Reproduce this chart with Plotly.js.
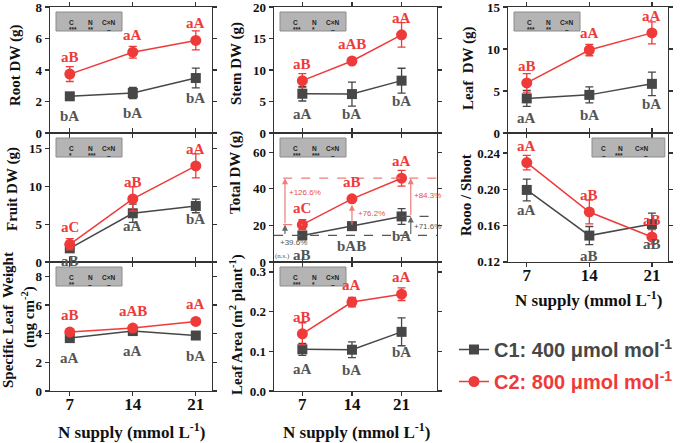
<!DOCTYPE html>
<html>
<head>
<meta charset="utf-8">
<script src="https://cdn.plot.ly/plotly-3.0.1.min.js"></script>
<style>
  html, body { margin: 0; padding: 0; background: #fff; }
  #chart { width: 685px; height: 443px; }
</style>
</head>
<body>
<div id="chart"></div>
<script>
const nSupply = [7, 14, 21];

// root dry weight
const rootC1 = [2.33, 2.54, 3.49];
const rootC1Err = [0.15, 0.35, 0.63];
const rootC2 = [3.74, 5.13, 5.88];
const rootC2Err = [0.47, 0.37, 0.6];
const rootC1Lab = ['bA', 'bA', 'bA'];
const rootC2Lab = ['aB', 'aA', 'aA'];
const rootStats = ['***', '**', '–'];

// stem dry weight
const stemC1 = [6.23, 6.18, 8.31];
const stemC1Err = [1.15, 1.9, 1.97];
const stemC2 = [8.31, 11.43, 15.58];
const stemC2Err = [1.1, 0.3, 1.95];
const stemC1Lab = ['aA', 'bA', 'bA'];
const stemC2Lab = ['aB', 'aAB', 'aA'];
const stemStats = ['***', '*', '–'];

// leaf dry weight
const leafC1 = [4.12, 4.54, 5.85];
const leafC1Err = [0.95, 0.95, 1.4];
const leafC2 = [5.96, 9.88, 11.92];
const leafC2Err = [1.1, 0.68, 1.3];
const leafC1Lab = ['aA', 'bA', 'bA'];
const leafC2Lab = ['aB', 'aA', 'aA'];
const leafStats = ['***', '**', '–'];

// fruit dry weight
const fruitC1 = [1.81, 6.46, 7.43];
const fruitC1Err = [0.3, 1.2, 0.9];
const fruitC2 = [2.35, 8.36, 12.74];
const fruitC2Err = [0.75, 1.6, 1.6];
const fruitC1Lab = ['aB', 'aA', 'bA'];
const fruitC2Lab = ['aC', 'aB', 'aA'];
const fruitStats = ['*', '***', '–'];

// total dry weight
const totalC1 = [14.5, 19.6, 24.9];
const totalC1Err = [1.0, 1.5, 4.3];
const totalC2 = [20.4, 34.5, 45.8];
const totalC2Err = [2.7, 1.0, 4.3];
const totalC1Lab = ['aB', 'bAB', 'bA'];
const totalC2Lab = ['aC', 'aB', 'aA'];
const totalStats = ['***', '***', '–'];
const totalGains = ['+126.6%', '+76.2%', '+84.3%', '+39.6%', '+71.6%'];

// root / shoot ratio
const ratioC1 = [0.1993, 0.149, 0.1617];
const ratioC1Err = [0.012, 0.01, 0.012];
const ratioC2 = [0.2294, 0.175, 0.1475];
const ratioC2Err = [0.008, 0.013, 0.008];
const ratioC1Lab = ['aA', 'aB', 'aB'];
const ratioC2Lab = ['aA', 'aB', 'aB'];
const ratioStats = ['–', '***', '–'];

// specific leaf weight
const slwC1 = [3.69, 4.18, 3.87];
const slwC1Err = [0.12, 0.1, 0.1];
const slwC2 = [4.11, 4.39, 4.85];
const slwC2Err = [0.1, 0.12, 0.12];
const slwC1Lab = ['aA', 'aA', 'bA'];
const slwC2Lab = ['aB', 'aAB', 'aA'];
const slwStats = ['**', '–', '–'];

// leaf area
const areaC1 = [0.105, 0.104, 0.149];
const areaC1Err = [0.015, 0.02, 0.035];
const areaC2 = [0.144, 0.224, 0.244];
const areaC2Err = [0.028, 0.012, 0.016];
const areaC1Lab = ['aA', 'bA', 'bA'];
const areaC2Lab = ['aB', 'aA', 'aA'];
const areaStats = ['***', '*', '–'];

const grey = '#474747';
const red = '#ef3a3a';
const serif = 'Liberation Serif';
const sans = 'Liberation Sans';
const W = 685, H = 443;

const colX = [[50, 212], [274, 437], [508, 668]];
const rowY = [[7, 133], [133, 262], [262, 391]];
const xRanges = [[4.8, 22.8], [3, 26], [4.9, 22.8]];
const xDom = (c) => [colX[c][0] / W, colX[c][1] / W];
const yDom = (r) => [1 - rowY[r][1] / H, 1 - rowY[r][0] / H];

const panels = [
    {c1: rootC1, e1: rootC1Err, c2: rootC2, e2: rootC2Err, l1: rootC1Lab, l2: rootC2Lab, stats: rootStats, col: 0, row: 0, yr: [0, 8.001], dtick: 2, fmt: 'd'},
    {c1: stemC1, e1: stemC1Err, c2: stemC2, e2: stemC2Err, l1: stemC1Lab, l2: stemC2Lab, stats: stemStats, col: 1, row: 0, yr: [0, 20.001], dtick: 5, fmt: 'd'},
    {c1: leafC1, e1: leafC1Err, c2: leafC2, e2: leafC2Err, l1: leafC1Lab, l2: leafC2Lab, stats: leafStats, col: 2, row: 0, yr: [0, 15.001], dtick: 5, fmt: 'd'},
    {c1: fruitC1, e1: fruitC1Err, c2: fruitC2, e2: fruitC2Err, l1: fruitC1Lab, l2: fruitC2Lab, stats: fruitStats, col: 0, row: 1, yr: [0, 17.1], dtick: 5, fmt: 'd', low: -13},
    {c1: totalC1, e1: totalC1Err, c2: totalC2, e2: totalC2Err, l1: totalC1Lab, l2: totalC2Lab, stats: totalStats, col: 1, row: 1, yr: [0, 70.5], dtick: 20, fmt: 'd'},
    {c1: ratioC1, e1: ratioC1Err, c2: ratioC2, e2: ratioC2Err, l1: ratioC1Lab, l2: ratioC2Lab, stats: ratioStats, col: 2, row: 1, yr: [0.1199, 0.262], dtick: 0.04, fmt: '.2f', xlabels: true, statsRight: true},
    {c1: slwC1, e1: slwC1Err, c2: slwC2, e2: slwC2Err, l1: slwC1Lab, l2: slwC2Lab, stats: slwStats, col: 0, row: 2, yr: [0, 9], dtick: 2, fmt: 'd', xlabels: true},
    {c1: areaC1, e1: areaC1Err, c2: areaC2, e2: areaC2Err, l1: areaC1Lab, l2: areaC2Lab, stats: areaStats, col: 1, row: 2, yr: [0, 0.325], dtick: 0.1, fmt: '.1f', xlabels: true},
];

let data = [];
let shapes = [];
let annotations = [];

let layout = {
    width: W,
    height: H,
    margin: {l: 0, r: 0, t: 0, b: 0},
    paper_bgcolor: '#fff',
    plot_bgcolor: '#fff',
    showlegend: true,
    legend: {
        x: 454 / W, y: 1 - 330 / H, xanchor: 'left', yanchor: 'top',
        font: {family: sans, size: 20, weight: 'bold', color: grey},
        bgcolor: 'rgba(0,0,0,0)', itemwidth: 30,
    },
    legend2: {
        x: 454 / W, y: 1 - 362 / H, xanchor: 'left', yanchor: 'top',
        font: {family: sans, size: 20, weight: 'bold', color: red},
        bgcolor: 'rgba(0,0,0,0)', itemwidth: 30,
    },
};

panels.forEach((p, i) => {
    const n = i === 0 ? '' : String(i + 1);
    const xa = 'x' + n, ya = 'y' + n;
    const ph = rowY[p.row][1] - rowY[p.row][0];

    layout['xaxis' + n] = {
        domain: xDom(p.col), range: xRanges[p.col], anchor: ya,
        tickvals: nSupply, ticks: 'outside', ticklen: 4, tickwidth: 1.2, tickcolor: '#333',
        showline: true, mirror: 'allticks', linecolor: '#333', linewidth: 1.3,
        showgrid: false, zeroline: false, showticklabels: !!p.xlabels,
        ticklabelstandoff: -7,
        tickfont: {family: serif, size: 17, weight: 'bold', color: '#111'},
    };
    layout['yaxis' + n] = {
        domain: yDom(p.row), range: p.yr, anchor: xa,
        tick0: p.yr[0] > 0 ? 0.12 : 0, dtick: p.dtick, tickformat: p.fmt,
        ticks: 'outside', ticklen: 4, tickwidth: 1.2, tickcolor: '#333',
        showline: true, mirror: 'allticks', linecolor: '#333', linewidth: 1.3,
        showgrid: false, zeroline: false, ticklabeloverflow: 'allow',
        tickfont: {family: serif, size: 13, weight: 'bold', color: '#111'},
    };

    data.push({
        x: nSupply, y: p.c1, xaxis: xa, yaxis: ya,
        type: 'scatter', mode: 'lines+markers',
        name: 'C1: 400 μmol mol<sup>-1</sup>', legend: 'legend', showlegend: i === 0,
        line: {color: grey, width: 1.5},
        marker: {symbol: 'square', size: 10, color: grey},
        error_y: {type: 'data', array: p.e1, color: grey, thickness: 1.3, width: 4},
    });
    data.push({
        x: nSupply, y: p.c2, xaxis: xa, yaxis: ya,
        type: 'scatter', mode: 'lines+markers',
        name: 'C2: 800 μmol mol<sup>-1</sup>', legend: 'legend2', showlegend: i === 0,
        line: {color: red, width: 1.5},
        marker: {symbol: 'circle', size: 11, color: red},
        error_y: {type: 'data', array: p.e2, color: red, thickness: 1.3, width: 4},
    });

    // significance letters
    nSupply.forEach((x, k) => {
        annotations.push({
            xref: xa, yref: ya, x, y: p.c2[k], yshift: 17, showarrow: false,
            text: p.l2[k], font: {family: serif, size: 15, weight: 'bold', color: red},
        });
        annotations.push({
            xref: xa, yref: ya, x, y: p.c1[k], yshift: p.low || -20, showarrow: false,
            text: p.l1[k], font: {family: serif, size: 15, weight: 'bold', color: '#555'},
        });
    });

    // ANOVA box
    const pw = colX[p.col][1] - colX[p.col][0];
    const bx0 = p.statsRight ? 0.525 : 6 / pw;
    const bx1 = p.statsRight ? 0.98 : 72 / pw;
    shapes.push({
        type: 'rect', xref: xa + ' domain', yref: ya + ' domain',
        x0: bx0, x1: bx1, y0: 1 - 24 / ph, y1: 1 - 5 / ph,
        fillcolor: '#b4b4b4', line: {color: '#8c8c8c', width: 1},
    });
    ['C', 'N', 'C×N'].forEach((h, k) => {
        const fx = bx0 + (bx1 - bx0) * [0.16, 0.46, 0.8][k];
        annotations.push({
            xref: xa + ' domain', yref: ya + ' domain', x: fx, y: 1 - 10 / ph,
            showarrow: false, text: h, font: {family: sans, size: 6.5, weight: 'bold', color: '#222'},
        });
        annotations.push({
            xref: xa + ' domain', yref: ya + ' domain', x: fx, y: 1 - 17 / ph,
            showarrow: false, text: p.stats[k], font: {family: sans, size: 6.5, weight: 'bold', color: '#222'},
        });
    });
});

// Total DW: reference lines and percentage arrows
const redSoft = '#f07b7b';
shapes.push(
    {type: 'line', xref: 'x5', yref: 'y5', x0: 4.3, x1: 7, y0: totalC2[0], y1: totalC2[0], line: {color: redSoft, width: 1.2, dash: 'dash'}},
    {type: 'line', xref: 'x5', yref: 'y5', x0: 4.3, x1: 26, y0: totalC2[2], y1: totalC2[2], line: {color: redSoft, width: 1.2, dash: 'dash'}},
    {type: 'line', xref: 'x5', yref: 'y5', x0: 3, x1: 26, y0: totalC1[0], y1: totalC1[0], line: {color: '#555', width: 1.2, dash: 'dash'}},
    {type: 'line', xref: 'x5', yref: 'y5', x0: 21, x1: 26, y0: totalC1[2], y1: totalC1[2], line: {color: '#555', width: 1.2, dash: 'dash'}},
);
const arrow = (x, yTo, yFrom, color, standoff) => ({
    xref: 'x5', yref: 'y5', axref: 'x5', ayref: 'y5',
    x, y: yTo, ax: x, ay: yFrom, text: '', showarrow: true,
    arrowhead: 2, arrowsize: 1, arrowwidth: 1.2, arrowcolor: color, standoff: standoff || 0,
});
annotations.push(
    arrow(4.55, totalC2[2], totalC2[0], redSoft),
    arrow(4.55, totalC2[0], totalC1[0], '#666'),
    arrow(14, totalC2[1], totalC1[1], redSoft, 6),
    arrow(22.3, totalC2[2], totalC1[2], redSoft),
    arrow(22.3, totalC1[2], totalC1[0], '#666'),
);
const gainPos = [[4.84, 38.2], [14.6, 26.7], [22.5, 36.5], [3.5, 10.9], [22.5, 19.6]];
totalGains.forEach((g, k) => {
    annotations.push({
        xref: 'x5', yref: 'y5', x: gainPos[k][0], y: gainPos[k][1], xanchor: 'left',
        showarrow: false, text: g,
        font: {family: sans, size: 8, color: k >= 3 ? '#555' : '#e8504f'},
    });
});
annotations.push({
    xref: 'x5', yref: 'y5', x: 5.6, y: 3.3, xanchor: 'right', showarrow: false,
    text: '(n.s.)', font: {family: serif, size: 7, color: '#555'},
});

// axis titles
const title = (text, px, py, angle, size) => ({
    xref: 'paper', yref: 'paper', x: px / W, y: 1 - py / H,
    xanchor: 'center', yanchor: 'middle', showarrow: false, textangle: angle,
    text, font: {family: serif, size: size || 15, weight: 'bold', color: '#111'},
});
annotations.push(
    title('Root DW (g)', 15, 66, -90),
    title('Stem DW (g)', 237, 64, -90),
    title('Leaf  DW (g)', 468, 69, -90),
    title('Fruit DW (g)', 12, 189, -90),
    title('Total DW (g)', 236, 173, -90),
    title('Rooo / Shoot', 466, 195, -90),
    title('Specific Leaf  Weight', 8, 320, -90),
    title('(mg cm<sup>-2</sup>)', 28, 317, -90),
    title('Leaf Area (m<sup>2</sup> plant<sup>-1</sup>)', 236, 325, -90),
    title('N supply (mmol L<sup>-1</sup>)', 131, 431, 0, 17),
    title('N supply (mmol L<sup>-1</sup>)', 356, 431, 0, 17),
    title('N supply (mmol L<sup>-1</sup>)', 588, 299, 0, 17),
);

layout.shapes = shapes;
layout.annotations = annotations;

Plotly.newPlot('chart', data, layout, {displayModeBar: false, staticPlot: true});
</script>
</body>
</html>
